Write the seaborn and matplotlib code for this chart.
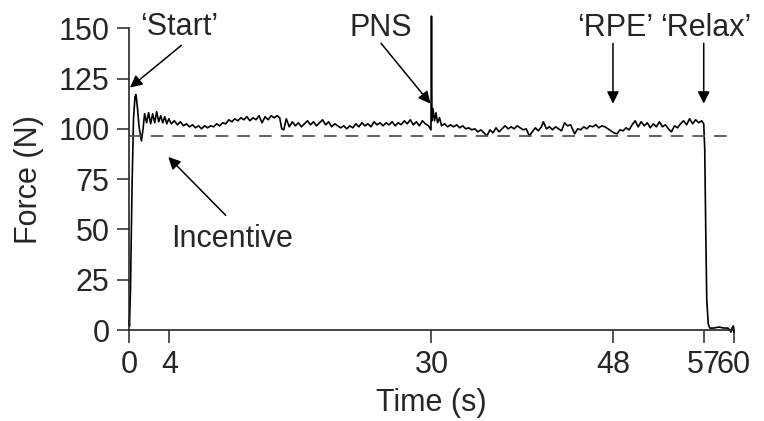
import matplotlib
matplotlib.use("Agg")
import matplotlib.pyplot as plt
import seaborn as sns
import pandas as pd

# force trace: (time in s, force in N)
trace = [
    (0.0, 5), (0.05, 2), (0.15, 20), (0.3, 70), (0.45, 105), (0.6, 116),
    (0.7, 117), (0.85, 110), (1.0, 101), (1.24, 94), (1.4, 100),
    (1.55, 107.5), (1.75, 103), (1.95, 108), (2.15, 102.5), (2.35, 107.5),
    (2.55, 103), (2.75, 108.5), (2.95, 103.5), (3.15, 106.5), (3.35, 103),
    (3.55, 106), (3.75, 102.5), (3.95, 105), (4.2, 102.5),
    (4.5, 104), (4.8, 102), (5.1, 103.5), (5.4, 101.5), (5.7, 102.5),
    (6.0, 101), (6.3, 102), (6.6, 100.5), (6.9, 101.5), (7.2, 100),
    (7.5, 101.5), (7.8, 100.5), (8.1, 101.5), (8.4, 101), (8.7, 102.5),
    (9.0, 101.5), (9.3, 103), (9.6, 102.5), (9.9, 104.5), (10.2, 103.5),
    (10.5, 105), (10.8, 104), (11.1, 105.5), (11.4, 104.5), (11.7, 106),
    (12.0, 104), (12.3, 105.5), (12.6, 104.5), (12.9, 106.5), (13.2, 103),
    (13.5, 106), (13.8, 104.5), (14.1, 106.5), (14.4, 105.5), (14.7, 106.5),
    (14.95, 105.5), (15.15, 100), (15.35, 99.5),
    (15.6, 105), (15.9, 101), (16.2, 103.5), (16.5, 101.5), (16.8, 103),
    (17.1, 101), (17.4, 102.5), (17.7, 104), (18.0, 102), (18.3, 103.5),
    (18.6, 101.5), (18.9, 103), (19.2, 104.5), (19.5, 102), (19.8, 103.5),
    (20.1, 101), (20.4, 102.5), (20.7, 101.5), (21.0, 100.5), (21.3, 101.5),
    (21.6, 100), (21.9, 101.5), (22.2, 100.5), (22.5, 102.5), (22.8, 101),
    (23.1, 103), (23.4, 101.5), (23.7, 102.5), (24.0, 101), (24.3, 103.5),
    (24.6, 102), (24.9, 103), (25.2, 101.5), (25.5, 103), (25.8, 102),
    (26.1, 103.5), (26.4, 101.5), (26.7, 103), (27.0, 102), (27.3, 104),
    (27.6, 102.5), (27.9, 104.5), (28.2, 102), (28.5, 103.5), (28.8, 101.5),
    (29.1, 104), (29.4, 102.5), (29.7, 101.5), (29.95, 99.5),
    (30.0, 156), (30.05, 104), (30.15, 110), (30.3, 104), (30.45, 108),
    (30.6, 103), (30.8, 105.5), (31.0, 101.5), (31.3, 102.5), (31.6, 101),
    (31.9, 102), (32.2, 101), (32.5, 102), (32.8, 100.5), (33.1, 101.5),
    (33.4, 100), (33.7, 100.5), (34.0, 99.5), (34.3, 100), (34.6, 98.5),
    (34.9, 99.5), (35.2, 98), (35.5, 96.5), (35.8, 99.5), (36.1, 98),
    (36.4, 100.5), (36.7, 98.5), (37.0, 100), (37.3, 101.5), (37.6, 100),
    (37.9, 101), (38.2, 100), (38.5, 101.5), (38.8, 100.5), (39.1, 99.5),
    (39.4, 100), (39.7, 96.5), (40.0, 98.5), (40.3, 100.5), (40.6, 99),
    (40.9, 101), (41.1, 103.5), (41.4, 100), (41.7, 101), (42.0, 99.5),
    (42.3, 101), (42.6, 100), (42.9, 99), (43.2, 103), (43.5, 101.5),
    (43.8, 102), (44.2, 97.5), (44.5, 100), (44.8, 99.5), (45.1, 101),
    (45.4, 100), (45.7, 101.5), (46.0, 101), (46.3, 102), (46.6, 100.5),
    (46.9, 101.5), (47.2, 101), (47.5, 100), (47.8, 99), (48.1, 98),
    (48.4, 97.5), (48.7, 99.5), (49.0, 99), (49.3, 100.5), (49.6, 99.5),
    (49.9, 102), (50.2, 104), (50.5, 101), (50.8, 103.5), (51.1, 101.5),
    (51.4, 103), (51.7, 100.5), (52.0, 102.5), (52.3, 101), (52.6, 103.5),
    (52.9, 101), (53.2, 102), (53.5, 100), (53.8, 98.5), (54.1, 101.5),
    (54.4, 100.5), (54.7, 102.5), (55.0, 104), (55.3, 102), (55.6, 105),
    (55.9, 102.5), (56.2, 104.5), (56.5, 103), (56.8, 104), (57.0, 102.5),
    (57.1, 90), (57.2, 50), (57.3, 15), (57.45, 3), (57.6, 1),
    (58.0, 1), (58.5, 1.5), (59.0, 1), (59.4, 1), (59.6, 0), (59.7, -1),
    (59.8, 1), (59.95, 2), (60.0, -1),
]

incentive_n = 96.5
x_ticks = [0, 4, 30, 48, 57, 60]
y_ticks = [0, 25, 50, 75, 100, 125, 150]

df = pd.DataFrame(trace, columns=["Time (s)", "Force (N)"])

sns.set_style("ticks")
plt.rcParams["font.family"] = ["Liberation Sans", "DejaVu Sans"]
fs = 22

fig = plt.figure(figsize=(7.64, 4.21), dpi=100)
ax = fig.add_axes([0.1688, 0.216, 0.7919, 0.717])

sns.lineplot(data=df, x="Time (s)", y="Force (N)", estimator=None, sort=False,
             color="black", linewidth=1.2, ax=ax, clip_on=False)
ax.axhline(incentive_n, color="#555555", linewidth=1.3, dashes=(7, 5))

ax.set_xlim(0, 60)
ax.set_ylim(0, 150)
ax.set_xticks(x_ticks)
ax.set_yticks(y_ticks)
ax.tick_params(direction="out", length=9, width=1.1, labelsize=fs, pad=5)
sns.despine(ax=ax)
for s in ["left", "bottom"]:
    ax.spines[s].set_linewidth(1.2)
ax.set_xlabel("Time (s)", fontsize=fs, labelpad=6)
ax.set_ylabel("Force (N)", fontsize=fs, labelpad=10)

arrow = dict(arrowstyle="-|>", color="black", lw=1.1, mutation_scale=18,
             shrinkA=0, shrinkB=0)
ax.text(4.95, 150.5, "\u2018Start\u2019", fontsize=fs, ha="center", va="center")
ax.annotate("", xy=(0.1, 120.5), xytext=(5.2, 141.5), arrowprops=arrow,
            annotation_clip=False)
ax.text(25.0, 150, "PNS", fontsize=fs, ha="center", va="center")
ax.annotate("", xy=(29.9, 112.5), xytext=(25.0, 142.5), arrowprops=arrow,
            annotation_clip=False)
ax.text(48.2, 150, "\u2018RPE\u2019", fontsize=fs, ha="center", va="center")
ax.annotate("", xy=(48, 112.5), xytext=(48, 142.5), arrowprops=arrow,
            annotation_clip=False)
ax.text(57.2, 150, "\u2018Relax\u2019", fontsize=fs, ha="center", va="center")
ax.annotate("", xy=(57, 112.5), xytext=(57, 142.5), arrowprops=arrow,
            annotation_clip=False)
ax.text(10.2, 45.5, "Incentive", fontsize=fs, ha="center", va="center")
ax.annotate("", xy=(3.9, 86), xytext=(9.6, 57), arrowprops=arrow)

fig.savefig("out.png", dpi=100)
